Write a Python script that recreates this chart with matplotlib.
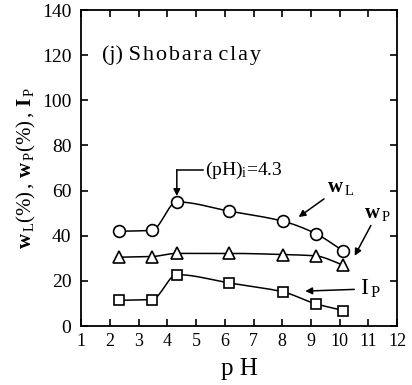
import numpy as np
import matplotlib
matplotlib.use("Agg")
import matplotlib.pyplot as plt

plt.rcParams['font.family'] = ['Liberation Serif', 'DejaVu Serif']
plt.rcParams['mathtext.fontset'] = 'custom'
plt.rcParams['mathtext.rm'] = 'Liberation Serif'
plt.rcParams['mathtext.it'] = 'Liberation Serif'
plt.rcParams['mathtext.bf'] = 'Liberation Serif:bold'

# pH values and consistency limits (Shobara clay)
ph = [2.30, 3.46, 4.33, 6.16, 8.04, 9.16, 10.12]
wl = [42.0, 42.4, 55.0, 50.9, 46.4, 41.0, 33.3]
wp = [30.5, 30.8, 32.2, 32.2, 31.7, 31.1, 27.0]
ip = [11.4, 11.7, 22.8, 19.1, 15.1, 9.9, 6.9]


def pchip(x, y, n=40):
    # monotone cubic through the points, used only for the drawn line
    x = np.asarray(x, float)
    y = np.asarray(y, float)
    h = np.diff(x)
    d = np.diff(y) / h
    m = np.zeros_like(y)
    for k in range(1, len(x) - 1):
        if d[k - 1] * d[k] > 0:
            w1 = 2 * h[k] + h[k - 1]
            w2 = h[k] + 2 * h[k - 1]
            m[k] = (w1 + w2) / (w1 / d[k - 1] + w2 / d[k])
    m[0] = d[0]
    m[-1] = d[-1]
    xs, ys = [], []
    for k in range(len(x) - 1):
        t = np.linspace(0, 1, n)
        h00 = 2 * t**3 - 3 * t**2 + 1
        h10 = t**3 - 2 * t**2 + t
        h01 = -2 * t**3 + 3 * t**2
        h11 = t**3 - t**2
        xs.append(x[k] + t * h[k])
        ys.append(h00 * y[k] + h10 * h[k] * m[k] + h01 * y[k + 1] + h11 * h[k] * m[k + 1])
    return np.concatenate(xs), np.concatenate(ys)


fig = plt.figure(figsize=(4.12, 3.85), dpi=100)
ax = fig.add_axes([0.197, 0.153, 0.767, 0.821])

for vals, mk, ms in [(wl, 'o', 8.5), (wp, '^', 8), (ip, 's', 6.5)]:
    sx, sy = pchip(ph, vals)
    ax.plot(sx, sy, color='black', lw=1.1, zorder=2)
    ax.plot(ph, vals, mk, ms=ms, mfc='white', mec='black', mew=1.2, zorder=3)

ax.set_xlim(1, 12)
ax.set_ylim(0, 140)
ax.set_xticks(range(1, 13))
ax.set_yticks(range(0, 141, 20))
ax.tick_params(direction='in', top=True, right=True, length=5, width=1.2,
               labelsize=14)
ax.tick_params(axis='x', pad=5, labelsize=13)
ax.tick_params(axis='y', pad=7)
for s in ax.spines.values():
    s.set_linewidth(1.3)

ax.set_xlabel('p H', fontsize=18, labelpad=6)
ax.set_ylabel(r'$\mathbf{w}_{\,\mathrm{L}}(\%)\,,\,\mathbf{w}_{\,\mathrm{P}}(\%)\,,\,\mathbf{I}_{\,\mathrm{P}}$',
              fontsize=15, labelpad=3)

hs = '\u200a'
ax.text(1.72, 120, '(j) ' + hs.join('Shobara') + ' ' + hs.join('clay'),
        fontsize=16, va='center')

# isoelectric point marker
ax.plot([5.25, 4.33], [69.0, 69.0], color='black', lw=1.1)
ax.annotate('', xy=(4.33, 57.6), xytext=(4.33, 69.2),
            arrowprops=dict(arrowstyle='-|>', color='black', lw=1.1,
                            mutation_scale=10, shrinkA=0, shrinkB=0))
ax.text(5.3, 69.0, r'(pH)$_{\rm i}$=4.3', fontsize=14, va='center')

ax.annotate(r'$\mathbf{w}_{\,\mathrm{L}}$', xy=(8.57, 48.3), xytext=(9.55, 61.5),
            fontsize=15, va='center',
            arrowprops=dict(arrowstyle='-|>', color='black', lw=1.1,
                            mutation_scale=10, shrinkA=0, shrinkB=0))
ax.annotate(r'$\mathbf{w}_{\,\mathrm{P}}$', xy=(10.43, 29.0), xytext=(10.85, 50.0),
            fontsize=15, va='center',
            arrowprops=dict(arrowstyle='-|>', color='black', lw=1.1,
                            mutation_scale=10, shrinkA=0, shrinkB=4))
ax.annotate(r'$\mathrm{I}_{\,\mathrm{P}}$', xy=(8.8, 15.5), xytext=(10.7, 16.5),
            fontsize=17, va='center',
            arrowprops=dict(arrowstyle='-|>', color='black', lw=1.1,
                            mutation_scale=10, shrinkA=2, shrinkB=0))

fig.savefig('out.png', dpi=100)
